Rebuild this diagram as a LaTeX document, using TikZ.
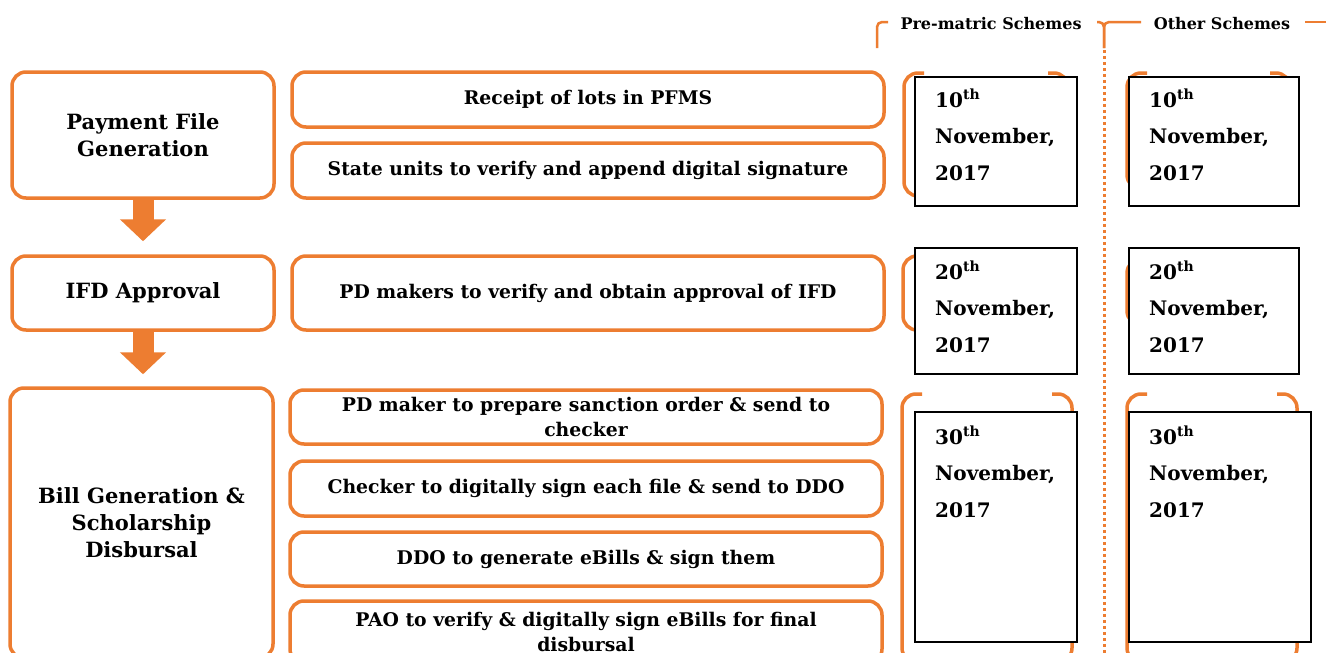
\documentclass[tikz,border=0pt]{standalone}
\usepackage{fontspec}
\setmainfont{DejaVu Serif}
\usetikzlibrary{arrows.meta,calc}
\definecolor{ora}{HTML}{ED7D31}
\begin{document}
\begin{tikzpicture}[x=1pt,y=-1pt,
  ob/.style={draw=ora, line width=3.5pt, rounded corners=14pt, fill=white, inner sep=0pt, align=center},
  lefttxt/.style={font=\bfseries\fontsize{21}{27}\selectfont},
  midtxt/.style={font=\bfseries\fontsize{18.8}{25}\selectfont},
  datebox/.style={draw=black, line width=2pt, fill=white, inner sep=0pt},
  datetxt/.style={font=\bfseries\fontsize{20}{36.5}\selectfont, align=left, inner sep=0pt, anchor=base west},
  hdr/.style={font=\bfseries\fontsize{16}{18}\selectfont, inner sep=0pt},
  brk/.style={draw=ora, line width=3.5pt, rounded corners=14pt},
  blockarrow/.style={draw=ora, line width=21pt, -{Triangle[width=45pt,length=22pt]}}
]
\useasboundingbox (0,0) rectangle (1326,653);
\fill[white] (0,0) rectangle (1326,653);

% header
\node[hdr] (h1) at (991,24) {Pre-matric Schemes};
\node[hdr] (h2) at (1222,24) {Other Schemes};
\draw[draw=ora, line width=2.5pt, rounded corners=5pt] (888,22) -- (877,22) -- (877,48);
\draw[draw=ora, line width=2.5pt, rounded corners=5pt] (1097,22) -- (1104,22) -- (1104,48);
\draw[draw=ora, line width=2.5pt, rounded corners=5pt] (1104,48) -- (1104,22) -- (1141,22);
\draw[draw=ora, line width=2.5pt] (1305,22) -- (1326,22);
\coordinate (dtop) at (1104,50);
\coordinate (dbot) at (1104,653);
\draw[draw=ora, line width=3pt, dash pattern=on 3pt off 3pt] (dtop) -- (dbot);

% left boxes
\node[ob, lefttxt, minimum width=262pt, minimum height=126pt] (pfg) at (143,135) {Payment File\\Generation};
\node[ob, lefttxt, minimum width=262pt, minimum height=74pt] (ifd) at (143,293) {IFD Approval};
\node[ob, lefttxt, minimum width=263pt, minimum height=270pt] (bill) at (141.5,523) {Bill Generation \&\\Scholarship\\Disbursal};

\draw[blockarrow] (pfg.south) -- ([yshift=13pt]ifd.north);
\draw[blockarrow] (ifd.south) -- ([yshift=12pt]ifd.south |- bill.north);

% middle boxes
\node[ob, midtxt, minimum width=592pt, minimum height=55pt] (r1) at (588,99.5) {Receipt of lots in PFMS};
\node[ob, midtxt, minimum width=592pt, minimum height=55pt] (r2) at (588,170.5) {State units to verify and append digital signature};
\node[ob, midtxt, minimum width=592pt, minimum height=74pt] (r3) at (588,293) {PD makers to verify and obtain approval of IFD};
\node[ob, midtxt, minimum width=592pt, minimum height=54pt] (b1) at (586,417) {PD maker to prepare sanction order \& send to\\checker};
\node[ob, midtxt, minimum width=592pt, minimum height=55pt] (b2) at (586,488.5) {Checker to digitally sign each file \& send to DDO};
\node[ob, midtxt, minimum width=592pt, minimum height=54pt] (b3) at (586,559) {DDO to generate eBills \& sign them};
\node[ob, midtxt, minimum width=592pt, minimum height=62pt] (b4) at (586,632) {PAO to verify \& digitally sign eBills for final\\disbursal};

% brackets behind date boxes
\draw[brk] (924,73) -- (904,73) -- (904,196) -- (924,196);
\draw[brk] (1048,73) -- (1068,73) -- (1068,196) -- (1048,196);
\draw[brk] (1147,73) -- (1127,73) -- (1127,189) -- (1147,189);
\draw[brk] (1270,73) -- (1290,73) -- (1290,189) -- (1270,189);
\draw[brk] (923,256) -- (903,256) -- (903,330) -- (923,330);
\draw[brk] (1147,259) -- (1127,259) -- (1127,325) -- (1147,325);
\draw[brk] (922,394) -- (902,394) -- (902,662) -- (922,662);
\draw[brk] (1052,394) -- (1072,394) -- (1072,662) -- (1052,662);
\draw[brk] (1147,394) -- (1127,394) -- (1127,662) -- (1147,662);
\draw[brk] (1277,394) -- (1297,394) -- (1297,662) -- (1277,662);

% date boxes
\node[datebox, minimum width=162pt, minimum height=129pt] (d11) at (996,141.5) {};
\node[datebox, minimum width=170pt, minimum height=129pt] (d21) at (1214,141.5) {};
\node[datebox, minimum width=162pt, minimum height=126pt] (d12) at (996,311) {};
\node[datebox, minimum width=170pt, minimum height=126pt] (d22) at (1214,311) {};
\node[datebox, minimum width=162pt, minimum height=230pt] (d13) at (996,527) {};
\node[datebox, minimum width=182pt, minimum height=230pt] (d23) at (1220,527) {};

\node[datetxt] (t11) at ([xshift=21pt,yshift=-104pt]d11.north west) {10\textsuperscript{th}\\November,\\2017};
\node[datetxt] (t21) at ([xshift=21pt,yshift=-104pt]d21.north west) {10\textsuperscript{th}\\November,\\2017};
\node[datetxt] (t12) at ([xshift=21pt,yshift=-105pt]d12.north west) {20\textsuperscript{th}\\November,\\2017};
\node[datetxt] (t22) at ([xshift=21pt,yshift=-105pt]d22.north west) {20\textsuperscript{th}\\November,\\2017};
\node[datetxt] (t13) at ([xshift=21pt,yshift=-106pt]d13.north west) {30\textsuperscript{th}\\November,\\2017};
\node[datetxt] (t23) at ([xshift=21pt,yshift=-106pt]d23.north west) {30\textsuperscript{th}\\November,\\2017};
\end{tikzpicture}
\end{document}
